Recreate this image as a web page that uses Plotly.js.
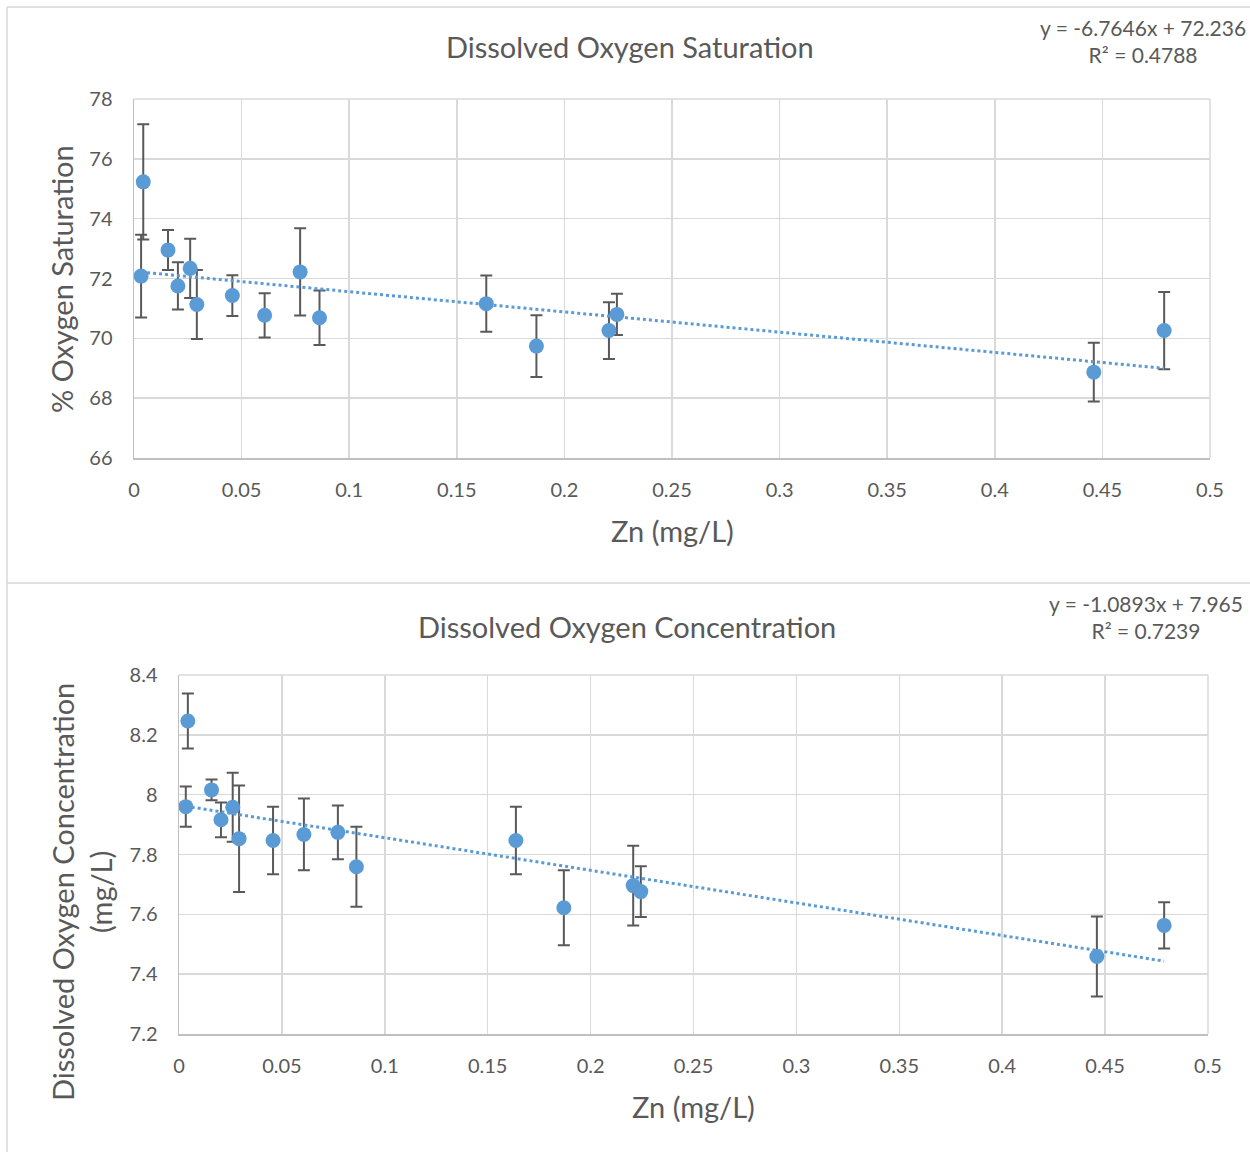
<!DOCTYPE html>
<html>
<head>
<meta charset="utf-8">
<script src="https://cdn.plot.ly/plotly-3.0.1.min.js"></script>
<style>html,body{margin:0;padding:0;background:#fff}#chart{width:1250px;height:1154px}</style>
</head>
<body>
<div id="chart"></div>
<script>
// Zn concentration (mg/L) for each sample
const zn = [0.0033, 0.0043, 0.0158, 0.0204, 0.0261, 0.0292, 0.0457, 0.0607, 0.0772, 0.0862, 0.1637, 0.1870, 0.2207, 0.2244, 0.4460, 0.4787];
// % oxygen saturation: mean and error
const satMean = [72.08, 75.23, 72.95, 71.75, 72.34, 71.13, 71.43, 70.77, 72.22, 70.69, 71.16, 69.74, 70.26, 70.80, 68.87, 70.26];
const satErr  = [1.38, 1.93, 0.67, 0.79, 0.99, 1.15, 0.68, 0.74, 1.46, 0.91, 0.94, 1.03, 0.95, 0.69, 0.98, 1.29];
// Dissolved oxygen concentration (mg/L): mean and error
const concMean = [7.960, 8.246, 8.016, 7.916, 7.958, 7.853, 7.847, 7.867, 7.874, 7.759, 7.847, 7.622, 7.696, 7.676, 7.459, 7.563];
const concErr  = [0.067, 0.092, 0.035, 0.058, 0.115, 0.178, 0.113, 0.120, 0.090, 0.134, 0.113, 0.125, 0.133, 0.085, 0.134, 0.077];
// Linear trendline coefficients shown on the chart
const satFit  = {slope: -6.7646, intercept: 72.236, r2: '0.4788'};
const concFit = {slope: -1.0893, intercept: 7.965, r2: '0.7239'};
// Axis ticks
const xTicks = [0, 0.05, 0.1, 0.15, 0.2, 0.25, 0.3, 0.35, 0.4, 0.45, 0.5];
const xTickText = ['0', '0.05', '0.1', '0.15', '0.2', '0.25', '0.3', '0.35', '0.4', '0.45', '0.5'];
const satTicks = [66, 68, 70, 72, 74, 76, 78];
const concTicks = [7.2, 7.4, 7.6, 7.8, 8, 8.2, 8.4];
const concTickText = ['7.2', '7.4', '7.6', '7.8', '8', '8.2', '8.4'];

const W = 1250, H = 1154;
const px = v => v / W;
const py = v => 1 - v / H;
const FONT = 'Lato, "Open Sans", sans-serif';
const TXT = '#595959';
const BLUE = '#5B9BD5';
const GRID = '#D9D9D9';

const xmin = Math.min(...zn), xmax = Math.max(...zn);
const fitLine = (f) => [f.intercept + f.slope * xmin, f.intercept + f.slope * xmax];

const markerTrace = (y, err, xa, ya) => ({
  x: zn, y: y, xaxis: xa, yaxis: ya, type: 'scatter', mode: 'markers',
  marker: {color: BLUE, size: 15},
  error_y: {type: 'data', array: err, visible: true, color: TXT, thickness: 2, width: 6},
  hoverinfo: 'x+y', showlegend: false
});
const trendTrace = (f, xa, ya) => ({
  x: [xmin, xmax], y: fitLine(f), xaxis: xa, yaxis: ya, type: 'scatter', mode: 'lines',
  line: {color: BLUE, width: 3, dash: 'dot'}, hoverinfo: 'skip', showlegend: false
});

const data = [
  markerTrace(satMean, satErr, 'x', 'y'),
  trendTrace(satFit, 'x', 'y'),
  markerTrace(concMean, concErr, 'x2', 'y2'),
  trendTrace(concFit, 'x2', 'y2')
];

const tickFont = {family: FONT, size: 20, color: TXT};
const xAxisBase = {
  range: [0, 0.5], tickvals: xTicks, ticktext: xTickText, showgrid: true, gridcolor: GRID, gridwidth: 1.5,
  zeroline: false, showline: true, linecolor: '#BFBFBF', linewidth: 1.5, ticks: '', tickfont: tickFont,
  ticklabelstandoff: 13, fixedrange: true
};
const yAxisBase = {
  showgrid: true, gridcolor: GRID, gridwidth: 1.5, zeroline: false, showline: true, linecolor: '#BFBFBF',
  linewidth: 1.5, ticks: '', tickfont: tickFont, ticklabelstandoff: 16, fixedrange: true
};

const plotEdges = (xa, ya) => [
  {type: 'line', xref: xa + ' domain', yref: ya + ' domain', x0: 0, x1: 1, y0: 1, y1: 1, layer: 'below', line: {color: GRID, width: 1.5}},
  {type: 'line', xref: xa + ' domain', yref: ya + ' domain', x0: 1, x1: 1, y0: 0, y1: 1, layer: 'below', line: {color: GRID, width: 1.5}}
];

const layout = {
  width: W, height: H, margin: {l: 0, r: 0, t: 0, b: 0},
  paper_bgcolor: '#fff', plot_bgcolor: '#fff', showlegend: false,
  font: {family: FONT, color: TXT},
  xaxis: Object.assign({}, xAxisBase, {domain: [px(134), px(1210)], anchor: 'y'}),
  yaxis: Object.assign({}, yAxisBase, {domain: [py(458), py(99)], anchor: 'x', range: [66, 78], tickvals: satTicks}),
  xaxis2: Object.assign({}, xAxisBase, {domain: [px(179), px(1208)], anchor: 'y2'}),
  yaxis2: Object.assign({}, yAxisBase, {domain: [py(1034), py(675)], anchor: 'x2', range: [7.2, 8.4], tickvals: concTicks, ticktext: concTickText}),
  shapes: [
    {type: 'line', xref: 'paper', yref: 'paper', x0: px(7), x1: 1, y0: py(7), y1: py(7), line: {color: GRID, width: 1.5}},
    {type: 'line', xref: 'paper', yref: 'paper', x0: px(7), x1: px(7), y0: py(7), y1: py(1152), line: {color: GRID, width: 1.5}},
    {type: 'line', xref: 'paper', yref: 'paper', x0: px(7), x1: 1, y0: py(583), y1: py(583), line: {color: GRID, width: 1.5}}
  ].concat(plotEdges('x', 'y'), plotEdges('x2', 'y2')),
  annotations: [
    {text: 'Dissolved Oxygen Saturation', xref: 'paper', yref: 'paper', x: px(630), y: py(47), xanchor: 'center', yanchor: 'middle', showarrow: false, font: {family: FONT, size: 29, color: TXT}},
    {text: 'y = -6.7646x + 72.236<br>R² = 0.4788', xref: 'paper', yref: 'paper', x: px(1143), y: py(41), xanchor: 'center', yanchor: 'middle', align: 'center', showarrow: false, font: {family: FONT, size: 21, color: TXT}},
    {text: 'Zn (mg/L)', xref: 'paper', yref: 'paper', x: px(672), y: py(530), xanchor: 'center', yanchor: 'middle', showarrow: false, font: {family: FONT, size: 29, color: TXT}},
    {text: '% Oxygen Saturation', xref: 'paper', yref: 'paper', x: px(62), y: py(279), xanchor: 'center', yanchor: 'middle', textangle: -90, showarrow: false, font: {family: FONT, size: 29, color: TXT}},
    {text: 'Dissolved Oxygen Concentration', xref: 'paper', yref: 'paper', x: px(627), y: py(626), xanchor: 'center', yanchor: 'middle', showarrow: false, font: {family: FONT, size: 29, color: TXT}},
    {text: 'y = -1.0893x + 7.965<br>R² = 0.7239', xref: 'paper', yref: 'paper', x: px(1146), y: py(617), xanchor: 'center', yanchor: 'middle', align: 'center', showarrow: false, font: {family: FONT, size: 21, color: TXT}},
    {text: 'Zn (mg/L)', xref: 'paper', yref: 'paper', x: px(693), y: py(1106), xanchor: 'center', yanchor: 'middle', showarrow: false, font: {family: FONT, size: 29, color: TXT}},
    {text: 'Dissolved Oxygen Concentration<br>(mg/L)', xref: 'paper', yref: 'paper', x: px(81), y: py(892), xanchor: 'center', yanchor: 'middle', textangle: -90, align: 'center', showarrow: false, font: {family: FONT, size: 29, color: TXT}}
  ]
};

Plotly.newPlot('chart', data, layout, {staticPlot: true, displayModeBar: false});
</script>
</body>
</html>
